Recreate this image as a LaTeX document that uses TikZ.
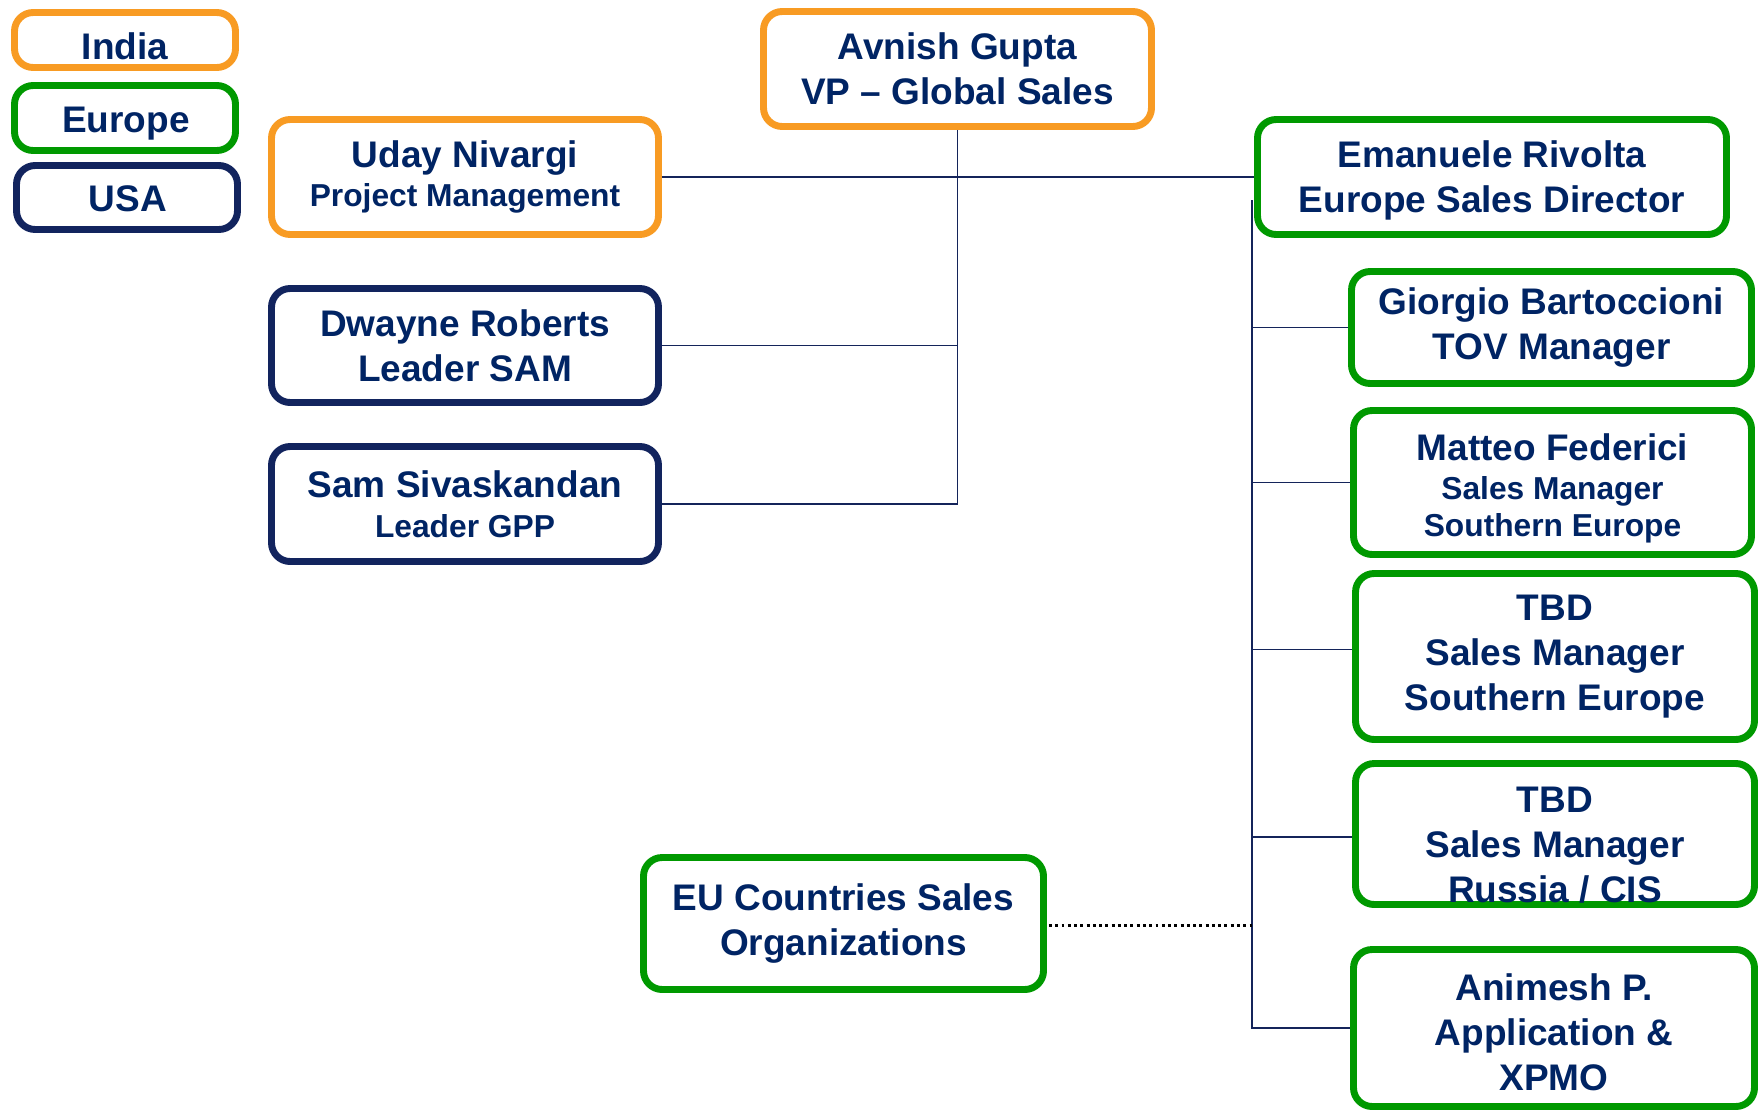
\documentclass[tikz,border=0pt]{standalone}
\usepackage{fontspec}
\setmainfont{Liberation Sans}
\usetikzlibrary{calc}
\definecolor{txtc}{RGB}{0,36,100}
\definecolor{orc}{RGB}{248,155,35}
\definecolor{grc}{RGB}{0,153,0}
\definecolor{nvc}{RGB}{18,36,94}
\definecolor{lnc}{RGB}{20,36,90}
\newcommand{\bigf}{\fontsize{27.75pt}{33.75pt}\selectfont\bfseries}
\newcommand{\smf}{\fontsize{23.8pt}{28pt}\selectfont\bfseries}
\begin{document}
\begin{tikzpicture}[x=0.75pt,y=-0.75pt,
  box/.style={draw, line width=5.2pt, rounded corners=14pt, fill=white,
    text=txtc, align=center, inner sep=0pt, font=\bigf},
  orbox/.style={box, draw=orc},
  grbox/.style={box, draw=grc},
  nvbox/.style={box, draw=nvc},
  lbl/.style={text=txtc, align=center, font=\bigf, inner sep=0pt},
  sz/.style 2 args={minimum width=#1*0.75pt, minimum height=#2*0.75pt},
  conn/.style={draw=lnc, line width=1.3pt},
  dotconn/.style={draw=black, line width=2.2pt, dash pattern=on 2.2pt off 2.5pt}]
\useasboundingbox (0,0) rectangle (1760,1115);
% legend
\node[orbox, sz={221}{55}] (india) at (125,40) {};
\node[grbox, sz={221}{65}] (europe) at (125,118) {};
\node[nvbox, sz={221}{64}] (usa) at (127,197.5) {};
\node[lbl, anchor=base] (indiat) at (125,59) {India};
\node[lbl, anchor=base] (europet) at (126,132) {Europe};
\node[lbl, anchor=base] (usat) at (128,211) {USA};
\coordinate (bus) at (1252,200);
% boxes
\node[orbox, sz={388}{115}] (avnish) at (957.5,69) {Avnish Gupta\\VP -- Global Sales};
\node[orbox, sz={387}{115}] (uday) at (465,177) {Uday Nivargi\\[-4pt]{\smf Project Management}};
\node[nvbox, sz={387}{114}] (dwayne) at (465,345.5) {Dwayne Roberts\\Leader SAM};
\node[nvbox, sz={387}{115}] (sam) at (465,504) {Sam Sivaskandan\\[-4pt]{\smf Leader GPP}};
\node[grbox, sz={469}{115}] (emanuele) at (1492,177) {};
\node[lbl] (emanuelet) at (1492,180) {Emanuele Rivolta\\Europe Sales Director};
\node[grbox, sz={400}{112}] (giorgio) at (1551.5,327.5) {Giorgio Bartoccioni\\TOV Manager};
\node[grbox, sz={398}{144}] (matteo) at (1552.5,482.5) {};
\node[lbl] (matteot) at (1552.5,488.5) {Matteo Federici\\[-4pt]{\smf Sales Manager}\\[-6pt]{\smf Southern Europe}};
\node[grbox, sz={399}{166}] (tbd1) at (1555,656.5) {TBD\\Sales Manager\\Southern Europe};
\node[grbox, sz={399}{141}] (tbd2) at (1555,834) {};
\node[lbl] (tbd2t) at (1555,845) {TBD\\Sales Manager\\Russia / CIS};
\node[grbox, sz={401}{157}] (animesh) at (1554,1028) {};
\node[lbl] (animesht) at (1554,1032.5) {Animesh P.\\Application \&\\XPMO};
\node[grbox, sz={400}{132}] (eu) at (843.5,923.5) {EU Countries Sales\\Organizations};
% connectors
\draw[conn] (avnish.south) -- (avnish.south |- sam.east) -- (sam.east);
\draw[conn] (dwayne.east) -- (dwayne.east -| avnish.south);
\draw[conn] (uday.east) -- (emanuele.west);
\draw[conn] (bus) -- (bus |- animesh.west) -- (animesh.west);
\draw[conn] (giorgio.west -| bus) -- (giorgio.west);
\draw[conn] (matteo.west -| bus) -- (matteo.west);
\draw[conn] ($(tbd1.west -| bus)+(0,-7)$) -- ($(tbd1.west)+(0,-7)$);
\draw[conn] ($(tbd2.west -| bus)+(0,3)$) -- ($(tbd2.west)+(0,3)$);
\draw[dotconn] ($(eu.east)+(2,2)$) -- ($(eu.east -| bus)+(0,2)$);
\end{tikzpicture}
\end{document}
